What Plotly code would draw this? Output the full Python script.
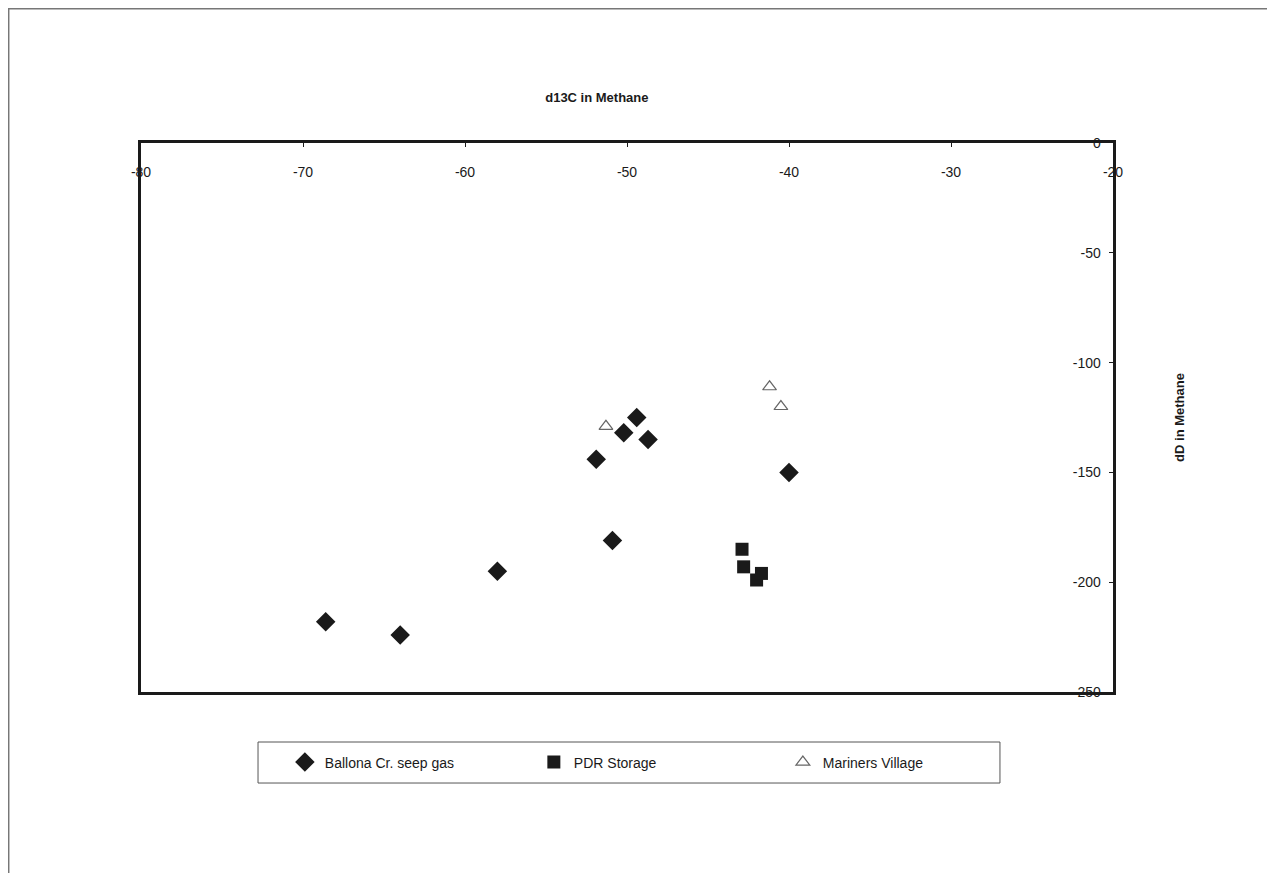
import plotly.graph_objects as go

# Ballona Cr. seep gas
ballona_d13c = [-68.6, -64.0, -58.0, -51.9, -50.2, -49.4, -48.7, -50.9, -40.0]
ballona_dd = [-218, -224, -195, -144, -132, -125, -135, -181, -150]

# PDR Storage
pdr_d13c = [-42.9, -42.8, -42.0, -41.7]
pdr_dd = [-185, -193, -199, -196]

# Mariners Village
mariners_d13c = [-51.3, -41.2, -40.5]
mariners_dd = [-129, -111, -120]

x_ticks = [-80, -70, -60, -50, -40, -30, -20]
x_tick_labels = ["-80", "-70", "-60", "-50", "-40", "-30", "-20"]
y_ticks = [0, -50, -100, -150, -200, -250]
y_tick_labels = ["0", "-50", "-100", "-150", "-200", "-250"]

FONT = "Liberation Sans, Arial, sans-serif"
INK = "#1a1a1a"

fig = go.Figure()

fig.add_trace(go.Scatter(x=ballona_d13c, y=ballona_dd, mode='markers',
                         name='Ballona Cr. seep gas',
                         marker=dict(symbol='diamond', size=15, color=INK,
                                     line=dict(width=0))))
fig.add_trace(go.Scatter(x=pdr_d13c, y=pdr_dd, mode='markers',
                         name='PDR Storage',
                         marker=dict(symbol='square', size=13, color=INK,
                                     line=dict(width=0))))
fig.add_trace(go.Scatter(x=mariners_d13c, y=mariners_dd, mode='markers',
                         name='Mariners Village',
                         marker=dict(symbol='triangle-up-open', size=12,
                                     color='#666666', line=dict(width=1.2))))

fig.update_xaxes(range=[-80, -20], side='top',
                 tickvals=x_ticks, ticktext=x_tick_labels,
                 ticklabelposition='inside', ticklabeloverflow='allow',
                 ticklabelstandoff=20,
                 ticks='inside', ticklen=4, tickcolor=INK,
                 showline=True, linewidth=3, linecolor=INK, mirror=True,
                 showgrid=False, zeroline=False,
                 tickfont=dict(family=FONT, size=14, color=INK))
fig.update_yaxes(range=[-250, 0], side='right',
                 tickvals=y_ticks, ticktext=y_tick_labels,
                 ticklabelposition='inside', ticklabeloverflow='allow',
                 ticklabelstandoff=8,
                 ticks='inside', ticklen=4, tickcolor=INK,
                 showline=True, linewidth=3, linecolor=INK, mirror=True,
                 showgrid=False, zeroline=False,
                 tickfont=dict(family=FONT, size=14, color=INK),
                 title=dict(text='<b>dD in Methane</b>', standoff=75,
                            font=dict(family=FONT, size=13, color=INK)))

fig.update_layout(
    width=1267, height=865,
    margin=dict(l=133, r=162, t=135, b=181),
    paper_bgcolor='white', plot_bgcolor='white',
    title=dict(text='<b>d13C in Methane</b>', xref='paper', x=0.469,
               xanchor='center', yref='container', y=1 - 89 / 865,
               yanchor='middle', font=dict(family=FONT, size=13, color=INK)),
    legend=dict(orientation='h', x=0.148, xanchor='left', y=-0.1284,
                yanchor='middle', borderwidth=0, bgcolor='rgba(0,0,0,0)',
                entrywidth=204,
                font=dict(family=FONT, size=14, color=INK)),
    shapes=[
        # outer chart border
        dict(type='rect', xref='paper', yref='paper',
             x0=-0.1361, x1=1.1595, y0=-0.34, y1=1.2445,
             line=dict(color='#777777', width=1.5)),
        # legend box
        dict(type='rect', xref='paper', yref='paper',
             x0=0.1204, x1=0.8837, y0=-0.1658, y1=-0.0911,
             line=dict(color='#555555', width=1), layer='below'),
    ],
)

fig.write_html("out.html")
